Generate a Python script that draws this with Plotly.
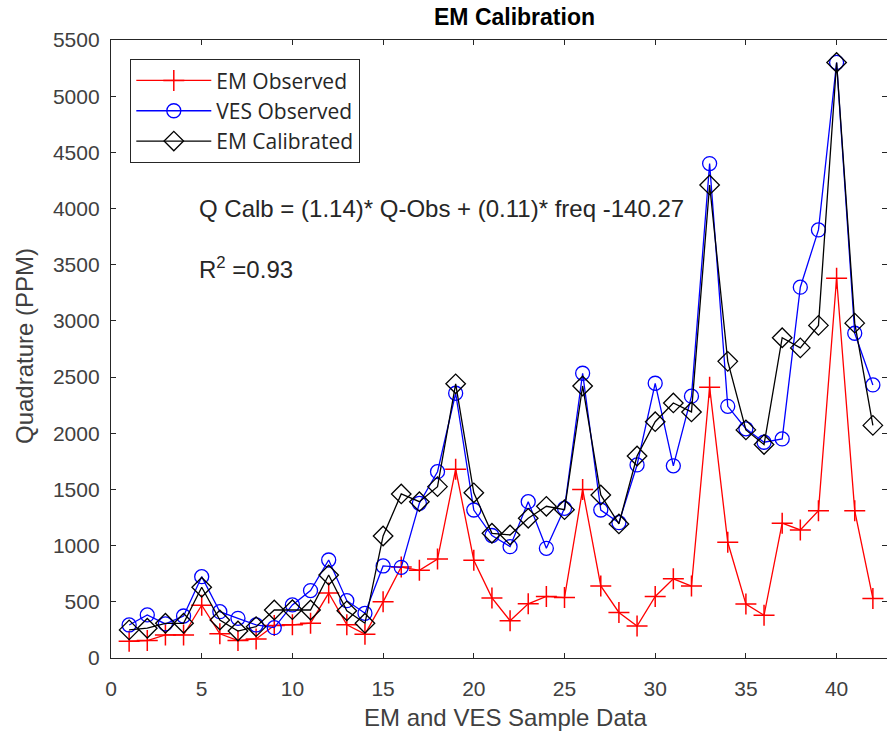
import plotly.graph_objects as go

sample = list(range(1, 43))
em_observed = [150, 155, 205, 205, 470, 215, 155, 170, 290, 295,
               310, 578, 295, 212, 500, 810, 780, 880, 1680, 870,
               535, 332, 482, 548, 538, 1500, 641, 405, 285, 548,
               705, 640, 2410, 1030, 480, 380, 1200, 1140, 1310, 3380, 1310, 530]
ves_observed = [294, 383, 303, 374, 724, 412, 353, 294, 270, 472,
                600, 872, 510, 398, 819, 807, 1377, 1658, 2356, 1317,
                1090, 991, 1391, 976, 1332, 2534, 1317, 1204, 1718, 2445,
                1710, 2330, 4400, 2240, 2040, 1920, 1950, 3300, 3810, 5300, 2890, 2430]
em_calibrated = [250, 265, 309, 309, 630, 338, 240, 279, 427, 430,
                 427, 739, 420, 309, 1086, 1460, 1391, 1525, 2440, 1470,
                 1110, 1095, 1243, 1350, 1320, 2421, 1451, 1193, 1798, 2103,
                 2270, 2190, 4210, 2640, 2030, 1900, 2850, 2760, 2960, 5300, 2980, 2070]
x_ticks = [0, 5, 10, 15, 20, 25, 30, 35, 40]
y_ticks = list(range(0, 5501, 500))

fig = go.Figure()
fig.add_trace(go.Scatter(x=sample, y=em_observed, mode="lines+markers", name="EM Observed",
                         line=dict(color="#ff0000", width=1.3),
                         marker=dict(symbol="cross-thin-open", size=15, color="#ff0000",
                                     line=dict(color="#ff0000", width=1.5))))
fig.add_trace(go.Scatter(x=sample, y=ves_observed, mode="lines+markers", name="VES Observed",
                         line=dict(color="#0000ff", width=1.3),
                         marker=dict(symbol="circle-open", size=14, color="#0000ff",
                                     line=dict(color="#0000ff", width=1.3))))
fig.add_trace(go.Scatter(x=sample, y=em_calibrated, mode="lines+markers", name="EM Calibrated",
                         line=dict(color="#000000", width=1.3),
                         marker=dict(symbol="diamond-open", size=15, color="#000000",
                                     line=dict(color="#000000", width=1.3))))

axis_common = dict(showline=True, linecolor="#262626", linewidth=1.3, mirror="ticks",
                   ticks="inside", ticklen=5, tickcolor="#262626", showgrid=False,
                   zeroline=False, tickfont=dict(family="Liberation Sans, Arial", size=21, color="#404040"))

label_font = dict(family="Liberation Sans, Arial", size=24, color="#404040")

fig.update_layout(
    width=887, height=738,
    margin=dict(l=111, r=0, t=40, b=80),
    paper_bgcolor="white", plot_bgcolor="white",
    showlegend=True,
    legend=dict(x=(130 - 111) / 776, y=1 - (59 - 40) / 618, xanchor="left", yanchor="top",
                bordercolor="#262626", borderwidth=1.3, bgcolor="white",
                font=dict(family="Open Sans, Liberation Sans", size=21, color="#262626"),
                tracegroupgap=0, itemwidth=75),
    xaxis=dict(range=[0, 776 / 18.14], tickvals=x_ticks, ticklabelstandoff=12,
               **axis_common),
    yaxis=dict(range=[0, 5500], tickvals=y_ticks, ticklabelstandoff=6,
               **axis_common),
    annotations=[
        dict(text="<b>EM Calibration</b>", xref="paper", yref="paper",
             x=(514 - 111) / 776, y=1 + (40 - 17) / 618, xanchor="center", yanchor="middle",
             showarrow=False, font=dict(family="Liberation Sans, Arial", size=23, color="black")),
        dict(text="EM and VES Sample Data", xref="paper", yref="paper",
             x=(505 - 111) / 776, y=-(717 - 658) / 618, xanchor="center", yanchor="middle",
             showarrow=False, font=label_font),
        dict(text="Quadrature (PPM)", xref="paper", yref="paper", textangle=-90,
             x=-(111 - 24) / 776, y=(658 - 346) / 618, xanchor="center", yanchor="middle",
             showarrow=False, font=label_font),
        dict(text="Q Calb = (1.14)* Q-Obs + (0.11)* freq -140.27", xref="x", yref="y",
             x=4.75, y=4000, xanchor="left", yanchor="middle", showarrow=False,
             font=dict(family="Liberation Sans, Arial", size=24, color="#262626")),
        dict(text="R<sup>2</sup> =0.93", xref="x", yref="y",
             x=4.75, y=3470, xanchor="left", yanchor="middle", showarrow=False,
             font=dict(family="Liberation Sans, Arial", size=24, color="#262626")),
    ],
)

fig.write_html("out.html")
